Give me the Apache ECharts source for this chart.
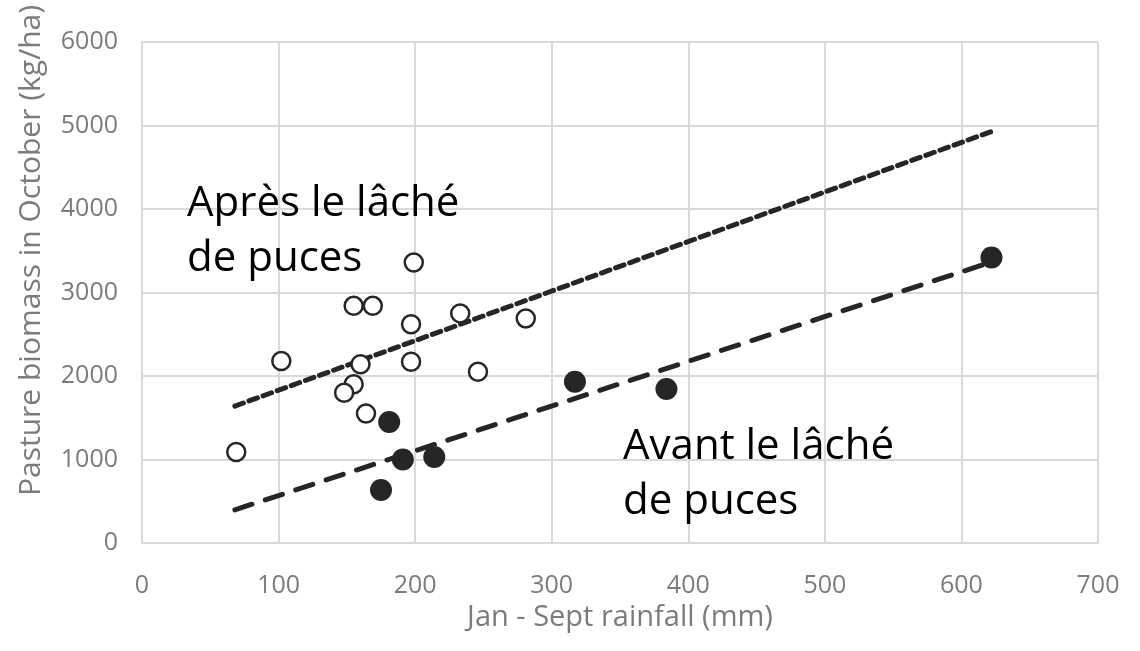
<!DOCTYPE html>
<html>
<head>
<meta charset="utf-8">
<script src="https://cdn.jsdelivr.net/npm/echarts@6/dist/echarts.min.js"></script>
<style>
html,body{margin:0;padding:0;background:#fff;}
#chart{width:1140px;height:651px;}
</style>
</head>
<body>
<div id="chart"></div>
<script>
// Data
var xTicks = [0, 100, 200, 300, 400, 500, 600, 700];
var yTicks = [0, 1000, 2000, 3000, 4000, 5000, 6000];

// "Après le lâché de puces" (open circles): [rainfall mm, biomass kg/ha]
var afterRainfall = [199, 155, 169, 197, 233, 281, 102, 160, 197, 246, 155, 148, 164, 69];
var afterBiomass  = [3360, 2840, 2840, 2620, 2750, 2690, 2180, 2140, 2170, 2050, 1900, 1800, 1550, 1090];

// "Avant le lâché de puces" (filled circles)
var beforeRainfall = [181, 191, 214, 175, 317, 384, 622];
var beforeBiomass  = [1450, 1000, 1030, 635, 1930, 1845, 3420];

// Linear trend lines (end points)
var afterTrendX = [68, 623];
var afterTrendY = [1640, 4934];
var beforeTrendX = [68, 622];
var beforeTrendY = [397, 3365];

var labelAfter = 'Après le lâché\nde puces';
var labelBefore = 'Avant le lâché\nde puces';
var xName = 'Jan - Sept rainfall (mm)';
var yName = 'Pasture biomass in October (kg/ha)';

function zip(a, b) { return a.map(function (v, i) { return [v, b[i]]; }); }

var chart = echarts.init(document.getElementById('chart'), null, {renderer: 'canvas'});
var FONT = '"Open Sans", "Noto Sans", sans-serif';
var GREY = '#7b7b7b';
var GRID = '#d9d9d9';

chart.setOption({
  animation: false,
  backgroundColor: '#ffffff',
  textStyle: {fontFamily: FONT},
  grid: {left: 142, right: 42, top: 42, bottom: 108, containLabel: false},
  xAxis: {
    type: 'value',
    min: xTicks[0], max: xTicks[xTicks.length - 1], interval: 100,
    name: xName, nameLocation: 'middle', nameGap: 45,
    nameTextStyle: {color: GREY, fontSize: 29, fontFamily: FONT},
    axisLine: {show: true, lineStyle: {color: GRID, width: 2}},
    axisTick: {show: false},
    axisLabel: {color: GREY, fontSize: 25, margin: 30, fontFamily: FONT,
      formatter: function (v) { return String(v); }},
    splitLine: {show: true, lineStyle: {color: GRID, width: 2}}
  },
  yAxis: {
    type: 'value',
    min: yTicks[0], max: yTicks[yTicks.length - 1], interval: 1000,
    name: yName, nameLocation: 'middle', nameGap: 96,
    nameTextStyle: {color: GREY, fontSize: 30, fontFamily: FONT, padding: [0, 0, 0, 84]},
    axisLine: {show: true, lineStyle: {color: GRID, width: 2}},
    axisTick: {show: false},
    axisLabel: {color: GREY, fontSize: 25, margin: 24, fontFamily: FONT,
      formatter: function (v) { return String(v); }},
    splitLine: {show: true, lineStyle: {color: GRID, width: 2}}
  },
  series: [
    {
      name: 'after trend', type: 'line', data: zip(afterTrendX, afterTrendY),
      showSymbol: false, symbol: 'none', z: 2,
      lineStyle: {color: '#262626', width: 5, type: [9, 6], cap: 'round'}
    },
    {
      name: 'before trend', type: 'line', data: zip(beforeTrendX, beforeTrendY),
      showSymbol: false, symbol: 'none', z: 2,
      lineStyle: {color: '#262626', width: 5, type: [18, 14], cap: 'round'}
    },
    {
      name: 'after', type: 'scatter', data: zip(afterRainfall, afterBiomass),
      symbol: 'circle', symbolSize: 18, z: 3,
      itemStyle: {color: '#ffffff', borderColor: '#262626', borderWidth: 2.5, opacity: 1}
    },
    {
      name: 'before', type: 'scatter', data: zip(beforeRainfall, beforeBiomass),
      symbol: 'circle', symbolSize: 22, z: 3,
      itemStyle: {color: '#262626', borderColor: '#262626', borderWidth: 0, opacity: 1}
    }
  ],
  graphic: [
    {
      type: 'text', left: 187, top: 177, z: 10,
      style: {text: labelAfter, font: '42px ' + FONT, fill: '#000000', lineHeight: 55}
    },
    {
      type: 'text', left: 623, top: 420, z: 10,
      style: {text: labelBefore, font: '42px ' + FONT, fill: '#000000', lineHeight: 55}
    }
  ]
});
</script>
</body>
</html>
